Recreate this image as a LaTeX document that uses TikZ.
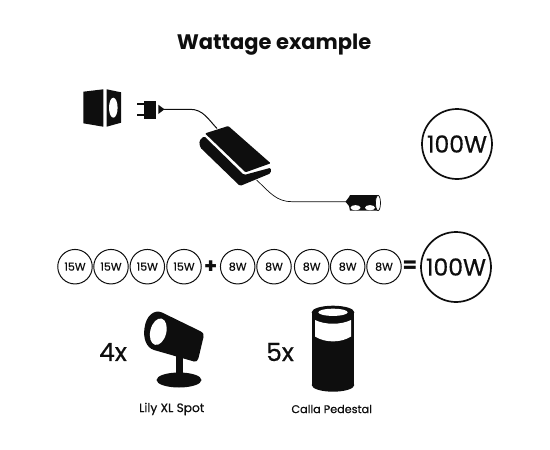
\documentclass[tikz,border=0pt]{standalone}
\usepackage{fontspec}
\setmainfont{Poppins}
\newfontfamily\medfont{Poppins}[FakeBold=0.6]
\definecolor{ink}{HTML}{0E0E0E}
\tikzset{
  wsmall/.style={circle,draw=ink,line width=1pt,minimum size=34.5pt,inner sep=0pt,text=ink,font=\medfont\fontsize{11}{13}\selectfont},
  wbig/.style={circle,draw=ink,line width=1.7pt,minimum size=70pt,inner sep=0pt,text=ink,font=\medfont\fontsize{23.5}{28}\selectfont},
  sym/.style={inner sep=0pt,text=ink,font=\bfseries\fontsize{21}{26}\selectfont},
  cnt/.style={inner sep=0pt,text=ink,font=\medfont\fontsize{25}{28}\selectfont},
  lab/.style={inner sep=0pt,text=ink,font=\medfont\fontsize{12}{14}\selectfont},
  cable/.style={draw=ink,line width=1pt},
  solid ink/.style={fill=ink,draw=none}
}
\begin{document}
\begin{tikzpicture}[x=1pt,y=-1pt]
\useasboundingbox (0,0) rectangle (550,450);
\node[inner sep=0pt,text=ink,font=\bfseries\fontsize{21}{24}\selectfont] (title) at (274,45) {Wattage example};
% outlet
\fill[solid ink] (83.3,91.7) -- (103.3,89.3) -- (103.3,126.7) -- (83.3,123.3) -- cycle;
\fill[solid ink] (106.7,89.3) -- (121,92.3) -- (121,122.7) -- (106.7,126.7) -- cycle;
\fill[white] (113.3,107.7) ellipse (4.3 and 10);
% plug
\fill[solid ink] (144,100.7) rectangle (156,119.3);
\fill[solid ink] (136.7,103.3) rectangle (144,105.3);
\fill[solid ink] (136.7,114) rectangle (144,116);
\fill[solid ink] (158.3,104.7) -- (164.5,109.3) -- (158.3,114) -- cycle;
% cables
\coordinate (plugend) at (164,109.3);
\coordinate (adaptin) at (217,128.5);
\coordinate (adaptout) at (256.7,180);
\coordinate (lampin) at (347,201.7);
\draw[cable] (plugend) -- (190,109.3) .. controls (203,109.3) and (208,119) .. (adaptin);
\draw[draw=ink,line width=0.7pt] (adaptout) .. controls (270,193) and (277,201.7) .. (292,201.7) -- (lampin);
% adapter
\fill[solid ink,rounded corners=1pt] (205,133.4) -- (228.3,126) -- (270.7,163.3) -- (245.5,172.3) -- cycle;
\fill[solid ink,rounded corners=1.5pt] (204,136) -- (199.3,140.7) -- (200,147.3) -- (240,186) -- (270.7,173.3) -- (271,167.7) -- (244,175) -- cycle;
% lamp unit
\fill[solid ink] (345.5,201.7) -- (349,197) -- (350,195) -- (378,195) -- (378,210.7) -- (350,210.7) -- (349,206) -- cycle;
\filldraw[fill=white,draw=ink,line width=0.7pt] (378,203) ellipse (2.5 and 7.7);
\fill[white] (355.5,207.7) ellipse (5 and 2.6);
\fill[white] (370,207.7) ellipse (5 and 2.6);
% top circle
\node[wbig] (top) at (457,144) {100W};
% sum row
\node[wsmall] (a) at (75,266.7) {15W};
\node[wsmall] (b) at (111,266.7) {15W};
\node[wsmall] (c) at (147.3,266.7) {15W};
\node[wsmall] (d) at (184,266.7) {15W};
\node[sym] (plus) at (210.7,267) {+};
\node[wsmall] (e) at (237.7,266.7) {8W};
\node[wsmall] (f) at (274,266.7) {8W};
\node[wsmall] (g) at (311.7,266.7) {8W};
\node[wsmall] (h) at (347.7,266.7) {8W};
\node[wsmall] (i) at (384,266.7) {8W};
\node[sym] (eq) at (410,267) {=};
\node[wbig] (sum) at (456,267) {100W};
% spot
\fill[solid ink] (176,352) rectangle (182.7,376);
\fill[solid ink] (179,380) ellipse (22.5 and 7.5);
\fill[solid ink] (162,312.5) -- (200,331) .. controls (204,333) and (204,335) .. (203.5,337) -- (198.5,358) .. controls (198,361) and (196,362) .. (194,361.5) -- (154,350) .. controls (146,347.5) and (143,338) .. (144.5,328) .. controls (146,316) and (154,309) .. (162,312.5) -- cycle;
\fill[white,rotate around={-14:(158.3,331.7)}] (158.3,331.7) ellipse (8 and 13.5);
% pedestal
\fill[solid ink] (311.7,312.3) rectangle (354.3,385);
\fill[solid ink] (333,312.3) ellipse (21.3 and 6.6);
\fill[solid ink] (333,385) ellipse (21.3 and 6.7);
\fill[white] (333,312.3) ellipse (14.7 and 3.6);
\fill[white] (315,320) .. controls (325,325) and (341,325) .. (351,320) -- (351,336.5) .. controls (341,343) and (325,343) .. (315,336.5) -- cycle;
% texts
\node[cnt] (n4) at (113,352) {4x};
\node[cnt] (n5) at (280,352) {5x};
\node[lab,font=\medfont\fontsize{12.2}{14}\selectfont] (l1) at (171.7,409) {Lily XL Spot};
\node[lab,font=\medfont\fontsize{11.2}{14}\selectfont] (l2) at (331.7,409) {Calla Pedestal};
\end{tikzpicture}
\end{document}
